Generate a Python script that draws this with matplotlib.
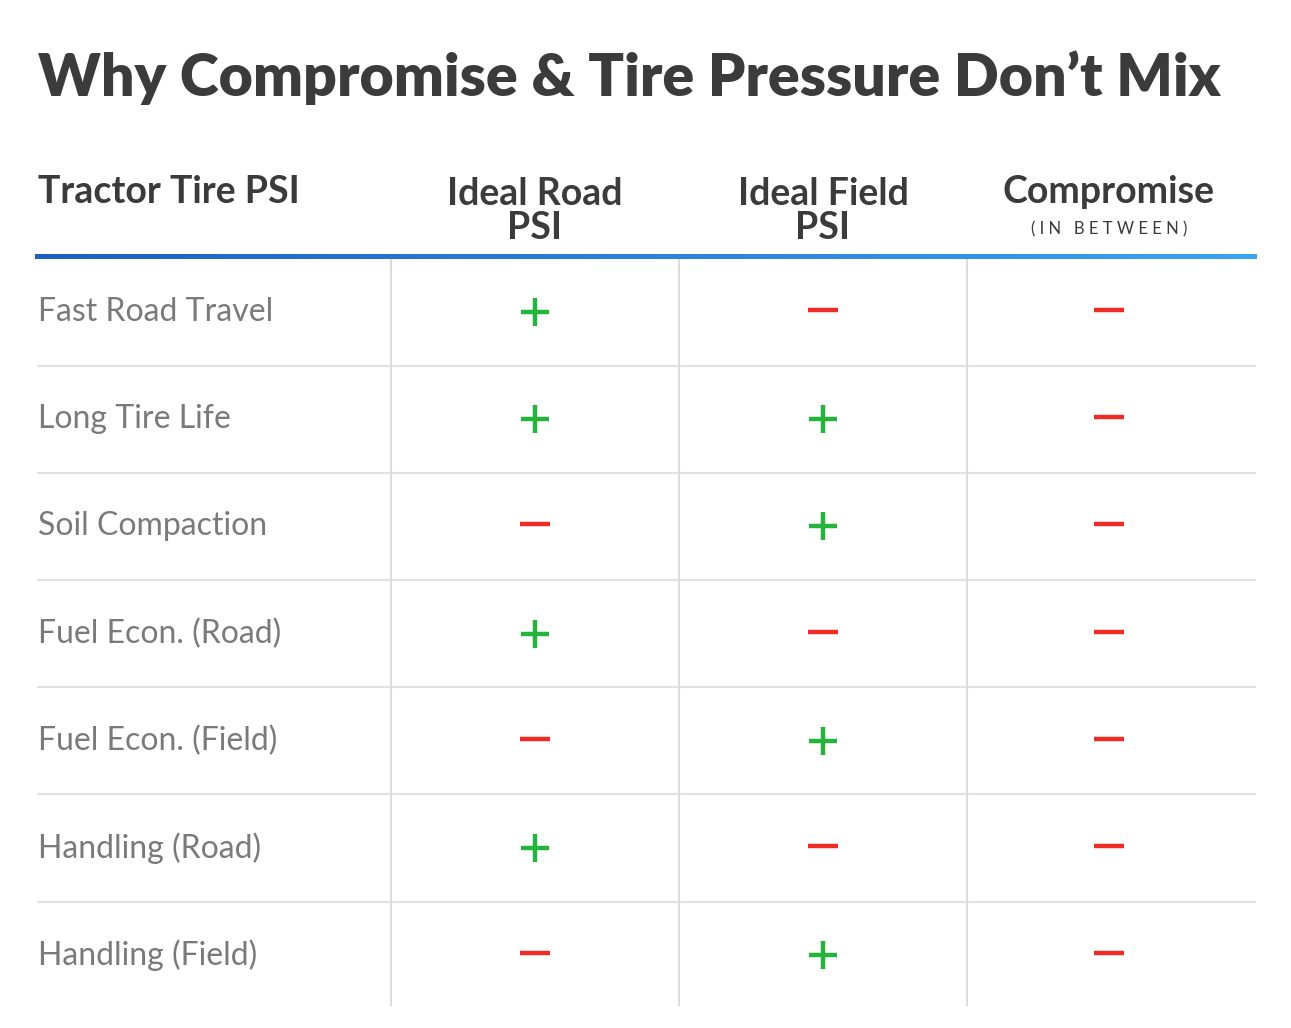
import matplotlib
matplotlib.use('Agg')
import matplotlib.pyplot as plt
import numpy as np

title = "Why Compromise & Tire Pressure Don\u2019t Mix"
row_labels = ["Fast Road Travel", "Long Tire Life", "Soil Compaction", "Fuel Econ. (Road)",
              "Fuel Econ. (Field)", "Handling (Road)", "Handling (Field)"]
col_headers = ["Ideal Road\nPSI", "Ideal Field\nPSI", "Compromise"]
ideal_road = [1, 1, 0, 1, 0, 1, 0]
ideal_field = [0, 1, 1, 0, 1, 0, 1]
compromise = [0, 0, 0, 0, 0, 0, 0]

W, H = 1291, 1028
fig = plt.figure(figsize=(W / 100, H / 100), dpi=100)
ax = fig.add_axes([0, 0, 1, 1])
ax.set_xlim(0, W)
ax.set_ylim(H, 0)
ax.axis('off')

font = 'Lato'
dark = '#3b3b3b'
green = '#22b53a'
red = '#ee2b24'

ax.text(38, 78, title, fontsize=42.5, fontweight='heavy', color=dark, family=font, va='center')

ax.text(38, 192, "Tractor Tire PSI", fontsize=27, fontweight='bold', color=dark, family=font, va='center')
col_x = [535, 823, 1109]
for x, h in zip(col_x, col_headers):
    ax.text(x, 211 if '\n' in h else 192, h, fontsize=27, fontweight='bold', color=dark,
            family=font, ha='center', va='center', linespacing=1.0)
ax.text(col_x[2], 229, "( I N   B E T W E E N )", fontsize=12, color=dark, family=font,
        ha='center', va='center')

# gradient header rule
grad = np.linspace(0, 1, 256).reshape(1, -1)
cmap = matplotlib.colors.LinearSegmentedColormap.from_list('g', ['#1c60c2', '#3aa3f2'])
ax.imshow(grad, extent=(35, 1257, 259, 254), cmap=cmap, aspect='auto', zorder=3)
ax.set_xlim(0, W)
ax.set_ylim(H, 0)

row_y = 312 + 107.2 * np.arange(len(row_labels))
for i in range(1, len(row_labels)):
    y = (row_y[i - 1] + row_y[i]) / 2
    ax.plot([38, 1255], [y, y], color='#e2e2e2', lw=1.5)
for x in [391, 679, 967]:
    ax.plot([x, x], [260, 1005], color='#dcdcdc', lw=1.5)

for y, lab in zip(row_y, row_labels):
    ax.text(38, y, lab, fontsize=23, color='#7a7a7a', family=font, va='center')

arm = 14
for x, vals in zip(col_x, [ideal_road, ideal_field, compromise]):
    for y, v in zip(row_y, vals):
        if v:
            ax.plot([x - arm, x + arm], [y, y], color=green, lw=3.2, solid_capstyle='butt')
            ax.plot([x, x], [y - arm, y + arm], color=green, lw=3.2, solid_capstyle='butt')
        else:
            ax.plot([x - arm - 1, x + arm + 1], [y - 2, y - 2], color=red, lw=3.2, solid_capstyle='butt')

fig.savefig('out.png', dpi=100, facecolor='white')
